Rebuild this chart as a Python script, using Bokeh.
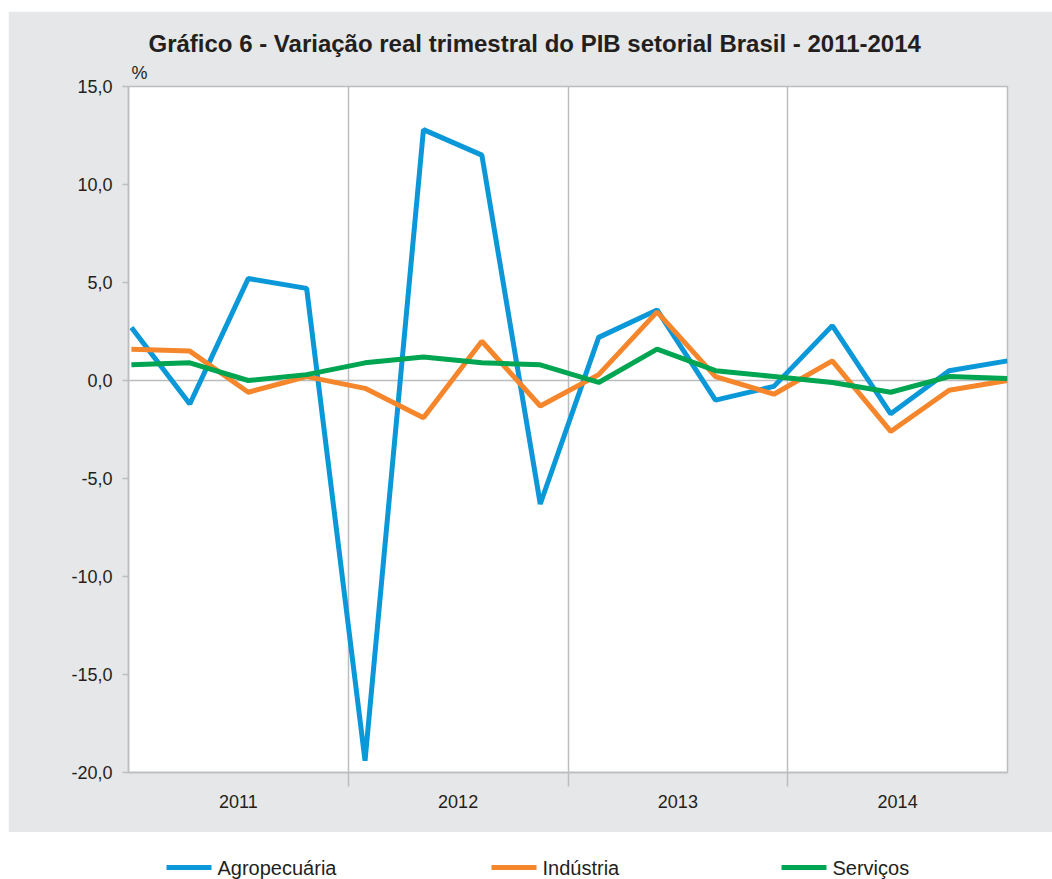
from bokeh.plotting import figure
from bokeh.models import Range1d, FixedTicker, Title, CustomJSTickFormatter
from bokeh.core.properties import value
from bokeh.layouts import column
from bokeh.embed import file_html
from bokeh.resources import INLINE

# ---------------- data ----------------
quarters = list(range(16))  # 2011 T1 ... 2014 T4
years = ["2011", "2012", "2013", "2014"]
agropecuaria = [2.7, -1.2, 5.2, 4.7, -19.4, 12.8, 11.5, -6.3, 2.2, 3.6, -1.0, -0.3, 2.8, -1.7, 0.5, 1.0]
industria = [1.6, 1.5, -0.6, 0.2, -0.4, -1.9, 2.0, -1.3, 0.3, 3.5, 0.2, -0.7, 1.0, -2.6, -0.5, 0.0]
servicos = [0.8, 0.9, 0.0, 0.3, 0.9, 1.2, 0.9, 0.8, -0.1, 1.6, 0.5, 0.2, -0.1, -0.6, 0.2, 0.1]
series_names = ["Agropecuária", "Indústria", "Serviços"]
y_ticks = [-20, -15, -10, -5, 0, 5, 10, 15]
y_tick_labels = ["-20,0", "-15,0", "-10,0", "-5,0", "0,0", "5,0", "10,0", "15,0"]
title_text = "Gráfico 6 - Variação real trimestral do PIB setorial Brasil - 2011-2014"
unit_text = "%"

# ---------------- style ----------------
BLUE = "#0A98D8"
ORANGE = "#F5862B"
GREEN = "#00A551"
BG = "#E6E7E8"
GRID = "#BCBDC0"
TXT = "#231F20"
FONT = "Liberation Sans"
B_LEFT, B_RIGHT = 120, 45

x0, x1 = -0.05, 15.0
quarter_span = (x1 - x0) / 4
boundaries = [x0 + quarter_span * k for k in (1, 2, 3)]
centers = [x0 + quarter_span * (k + 0.5) for k in range(4)]

p = figure(width=1044, height=821, output_backend="svg", toolbar_location=None,
           x_range=Range1d(x0, x1), y_range=Range1d(-20, 15),
           min_border_left=B_LEFT, min_border_right=B_RIGHT, min_border_top=75, min_border_bottom=60,
           background_fill_color="white", border_fill_color=BG,
           outline_line_color=GRID, outline_line_width=1.5,
           margin=(11, 0, 0, 8))

# titles (unit first = nearest the frame)
p.add_layout(Title(text=unit_text, align="left", offset=3, standoff=7,
                   text_font=FONT, text_font_size="18px", text_font_style="normal",
                   text_color=TXT), "above")
p.add_layout(Title(text=title_text, align="left", offset=20, standoff=2,
                   text_font=FONT, text_font_size="24px", text_font_style="bold",
                   text_color=TXT), "above")

# grids
p.xgrid.ticker = FixedTicker(ticks=boundaries)
p.xgrid.grid_line_color = GRID
p.xgrid.grid_line_width = 1.5
p.ygrid.ticker = FixedTicker(ticks=[0])
p.ygrid.grid_line_color = GRID
p.ygrid.grid_line_width = 1.5

# x axis
p.xaxis.ticker = FixedTicker(ticks=centers, minor_ticks=boundaries)
p.xaxis.formatter = CustomJSTickFormatter(args=dict(names=years), code="return names[index];")
p.xaxis.major_tick_out = 0
p.xaxis.major_tick_in = 0
p.xaxis.minor_tick_out = 14
p.xaxis.minor_tick_in = 0
p.xaxis.minor_tick_line_color = GRID
p.xaxis.minor_tick_line_width = 1.5
p.xaxis.axis_line_color = GRID
p.xaxis.axis_line_width = 1.5
p.xaxis.major_label_standoff = 8
p.xaxis.major_label_text_font = FONT
p.xaxis.major_label_text_font_size = "18px"
p.xaxis.major_label_text_color = TXT

# y axis
p.yaxis.ticker = FixedTicker(ticks=y_ticks)
p.yaxis.major_label_overrides = {t: l for t, l in zip(y_ticks, y_tick_labels)}
p.yaxis.major_tick_out = 6
p.yaxis.major_tick_in = 0
p.yaxis.minor_tick_line_color = None
p.yaxis.major_tick_line_color = GRID
p.yaxis.major_tick_line_width = 1.5
p.yaxis.axis_line_color = GRID
p.yaxis.axis_line_width = 1.5
p.yaxis.major_label_standoff = 10
p.yaxis.major_label_text_font = FONT
p.yaxis.major_label_text_font_size = "18px"
p.yaxis.major_label_text_color = TXT

# lines
colors = [BLUE, ORANGE, GREEN]
for vals, col in zip((agropecuaria, industria, servicos), colors):
    p.line(quarters, vals, line_color=col, line_width=5, line_join="bevel")

# ---------------- legend strip (page-pixel coordinates, frame aligned with main plot) ----------------
LW, LH = 1044, 47
leg = figure(width=LW, height=LH, output_backend="svg", toolbar_location=None,
             x_range=Range1d(8 + B_LEFT, 8 + LW - B_RIGHT), y_range=Range1d(0, LH),
             min_border_left=B_LEFT, min_border_right=B_RIGHT, min_border_top=0, min_border_bottom=0,
             outline_line_color=None, background_fill_color="white", border_fill_color="white",
             margin=(0, 0, 0, 8))
leg.axis.visible = False
leg.grid.visible = False
swatch_x = [166, 491, 781]
swatch_y = 12
leg.segment(x0=swatch_x, y0=[swatch_y] * 3, x1=[x + 45 for x in swatch_x], y1=[swatch_y] * 3,
            line_color=colors, line_width=5)
leg.text(x=[x + 51 for x in swatch_x], y=[swatch_y] * 3, text=series_names,
         text_font=value(FONT), text_font_size="20px", text_color=TXT,
         text_baseline="middle", text_align="left")

layout = column(p, leg, spacing=0)
open("out.html", "w").write(file_html(layout, INLINE))
